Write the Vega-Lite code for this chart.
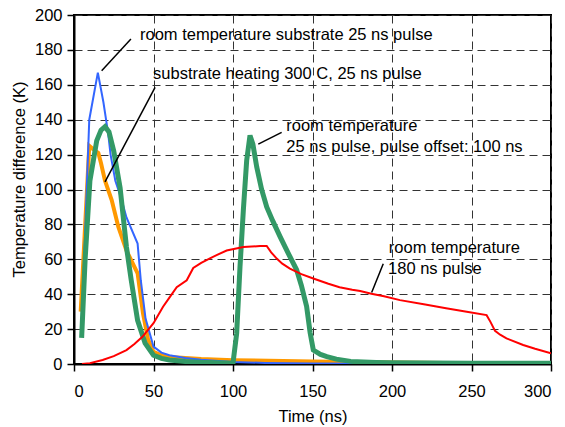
{
  "$schema": "https://vega.github.io/schema/vega-lite/v6.json",
  "width": 477,
  "height": 349,
  "autosize": {"type": "none"},
  "padding": {"left": 74, "top": 15, "right": 14, "bottom": 63},
  "background": "white",
  "config": {
    "view": {"stroke": "black", "strokeWidth": 2},
    "font": "Liberation Sans",
    "axis": {
      "grid": true,
      "gridColor": "#333333",
      "gridDash": [8, 5],
      "gridWidth": 1,
      "domainColor": "black",
      "domainWidth": 2,
      "tickColor": "black",
      "tickWidth": 1.5,
      "tickSize": 7,
      "labelFont": "Liberation Sans",
      "labelFontSize": 16.5,
      "labelColor": "black",
      "titleFont": "Liberation Sans",
      "titleFontSize": 16.5,
      "titleFontWeight": "normal",
      "titleColor": "black"
    }
  },
  "datasets": {
    "blue": [
      {"t": 5, "v": 25}, {"t": 9.6, "v": 140}, {"t": 15, "v": 167}, {"t": 18.5, "v": 150},
      {"t": 21.5, "v": 132}, {"t": 23, "v": 120}, {"t": 26, "v": 105}, {"t": 30, "v": 94},
      {"t": 33, "v": 84}, {"t": 40, "v": 69}, {"t": 42, "v": 48}, {"t": 45, "v": 26},
      {"t": 50, "v": 10}, {"t": 55, "v": 6.5}, {"t": 60, "v": 5}, {"t": 70, "v": 3.5},
      {"t": 80, "v": 2.5}, {"t": 100, "v": 1.2}, {"t": 120, "v": 0.6}, {"t": 150, "v": 0.3},
      {"t": 200, "v": 0.2}, {"t": 300, "v": 0.1}
    ],
    "orange": [
      {"t": 4.2, "v": 30}, {"t": 9.6, "v": 125}, {"t": 12.2, "v": 123}, {"t": 15.3, "v": 121},
      {"t": 17, "v": 115}, {"t": 19.5, "v": 105}, {"t": 23.7, "v": 94}, {"t": 27.9, "v": 78.5},
      {"t": 33, "v": 65}, {"t": 40, "v": 52}, {"t": 43.4, "v": 29}, {"t": 46.6, "v": 14},
      {"t": 50, "v": 7}, {"t": 55, "v": 5}, {"t": 60, "v": 4}, {"t": 80, "v": 2.8},
      {"t": 100, "v": 2.2}, {"t": 150, "v": 1.5}, {"t": 200, "v": 0.8}, {"t": 250, "v": 0.5},
      {"t": 300, "v": 0.3}
    ],
    "green": [
      {"t": 4.8, "v": 15}, {"t": 7, "v": 60}, {"t": 10, "v": 105}, {"t": 14.3, "v": 128},
      {"t": 17, "v": 134}, {"t": 19.5, "v": 136}, {"t": 22, "v": 133}, {"t": 25, "v": 122},
      {"t": 29, "v": 101}, {"t": 33, "v": 67}, {"t": 36, "v": 48}, {"t": 40, "v": 25},
      {"t": 44.7, "v": 12}, {"t": 50, "v": 5}, {"t": 55, "v": 3.2}, {"t": 60, "v": 2.3},
      {"t": 70, "v": 1.5}, {"t": 80, "v": 1}, {"t": 100, "v": 0.5}, {"t": 102.3, "v": 17.5},
      {"t": 104.4, "v": 55.6}, {"t": 106.5, "v": 88}, {"t": 108.6, "v": 116.6}, {"t": 110.7, "v": 131},
      {"t": 112.5, "v": 126}, {"t": 114.9, "v": 113}, {"t": 118, "v": 100}, {"t": 121.2, "v": 90},
      {"t": 125, "v": 82}, {"t": 129.6, "v": 73}, {"t": 135, "v": 63}, {"t": 140, "v": 54},
      {"t": 143, "v": 45}, {"t": 146.3, "v": 33}, {"t": 148.5, "v": 18}, {"t": 150.5, "v": 8},
      {"t": 155, "v": 5.5}, {"t": 159, "v": 4.2}, {"t": 165, "v": 2.8}, {"t": 174, "v": 1.5},
      {"t": 190, "v": 0.9}, {"t": 200, "v": 0.7}, {"t": 250, "v": 0.5}, {"t": 300, "v": 0.4}
    ],
    "red": [
      {"t": 5, "v": 0}, {"t": 10, "v": 0.5}, {"t": 18, "v": 2.3}, {"t": 25, "v": 4.5},
      {"t": 33, "v": 8}, {"t": 38, "v": 11.5}, {"t": 43, "v": 15.6}, {"t": 50, "v": 23.4},
      {"t": 56, "v": 32.8}, {"t": 60, "v": 38}, {"t": 64.6, "v": 44}, {"t": 70.9, "v": 48},
      {"t": 75, "v": 55}, {"t": 80, "v": 58}, {"t": 85.5, "v": 60.5}, {"t": 90, "v": 62.5},
      {"t": 96, "v": 65}, {"t": 106.5, "v": 67}, {"t": 117, "v": 67.6}, {"t": 121.2, "v": 67.6},
      {"t": 124, "v": 64}, {"t": 127.5, "v": 60.4}, {"t": 131, "v": 57.5}, {"t": 135.8, "v": 54.7},
      {"t": 143, "v": 51.5}, {"t": 150.5, "v": 49}, {"t": 160, "v": 46}, {"t": 167, "v": 44},
      {"t": 175, "v": 42.5}, {"t": 180, "v": 41.8}, {"t": 187, "v": 40.3}, {"t": 195, "v": 38.8},
      {"t": 205, "v": 36.6}, {"t": 220, "v": 34.2}, {"t": 234, "v": 32}, {"t": 247, "v": 30},
      {"t": 259.5, "v": 28}, {"t": 262, "v": 24}, {"t": 264.8, "v": 19}, {"t": 268, "v": 16.8},
      {"t": 272, "v": 14.7}, {"t": 282.5, "v": 10.9}, {"t": 290, "v": 8.7}, {"t": 300, "v": 6.1}
    ],
    "leaders": [
      {"t": 35.8, "v": 186.3, "t2": 17.4, "v2": 168},
      {"t": 51, "v": 158.5, "t2": 19.5, "v2": 104.4},
      {"t": 130.6, "v": 132.7, "t2": 115.9, "v2": 126},
      {"t": 194.5, "v": 57.5, "t2": 187.2, "v2": 41}
    ],
    "labels": [
      {"t": 41.5, "v": 188.3, "label": "room temperature substrate 25 ns pulse"},
      {"t": 49.7, "v": 166.4, "label": "substrate heating 300 C, 25 ns pulse"},
      {"t": 133.5, "v": 136.6, "label": "room temperature"},
      {"t": 133.5, "v": 124.6, "label": "25 ns pulse, pulse offset: 100 ns"},
      {"t": 198, "v": 66.3, "label": "room temperature"},
      {"t": 197.5, "v": 54.3, "label": "180 ns pulse"}
    ]
  },
  "encoding": {
    "x": {
      "field": "t", "type": "quantitative",
      "scale": {"domain": [0, 300], "nice": false},
      "axis": {"values": [0, 50, 100, 150, 200, 250, 300], "title": "Time (ns)", "labelPadding": 12, "titleY": 52, "titleBaseline": "middle"}
    },
    "y": {
      "field": "v", "type": "quantitative",
      "scale": {"domain": [0, 200], "nice": false},
      "axis": {"values": [0, 20, 40, 60, 80, 100, 120, 140, 160, 180, 200], "title": "Temperature difference (K)", "labelPadding": 5, "titleX": -55, "titleY": 164, "titleBaseline": "middle", "titleAlign": "center"}
    }
  },
  "layer": [
    {"data": {"name": "orange"}, "mark": {"type": "line", "color": "#FF9900", "strokeWidth": 4, "clip": true}},
    {"data": {"name": "blue"}, "mark": {"type": "line", "color": "#3366FF", "strokeWidth": 2, "clip": true}},
    {"data": {"name": "green"}, "mark": {"type": "line", "color": "#339966", "strokeWidth": 5, "clip": true}},
    {"data": {"name": "red"}, "mark": {"type": "line", "color": "#FF0000", "strokeWidth": 2, "clip": true}},
    {
      "data": {"name": "leaders"},
      "mark": {"type": "rule", "color": "black", "strokeWidth": 1.5},
      "encoding": {"x2": {"field": "t2"}, "y2": {"field": "v2"}}
    },
    {
      "data": {"name": "labels"},
      "mark": {"type": "text", "align": "left", "baseline": "middle", "fontSize": 16.5, "font": "Liberation Sans", "color": "black"},
      "encoding": {"text": {"field": "label"}}
    }
  ]
}
